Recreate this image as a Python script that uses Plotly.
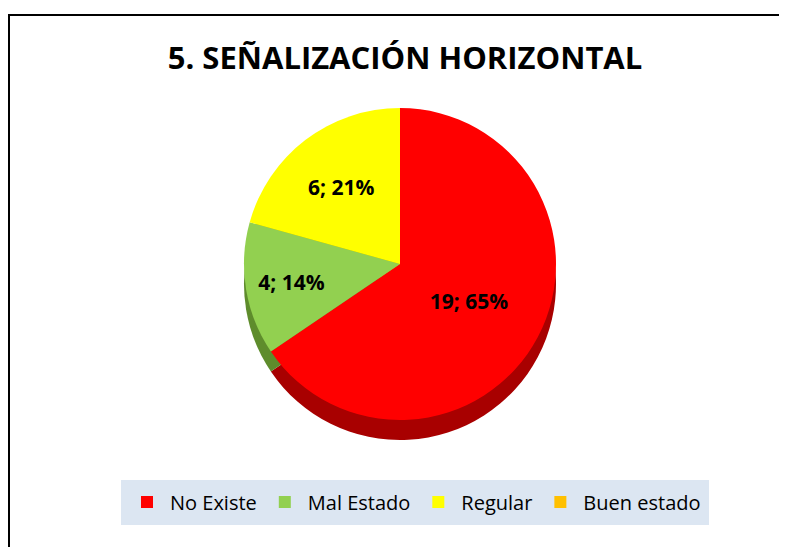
import plotly.graph_objects as go

categories = ["No Existe", "Mal Estado", "Regular", "Buen estado"]
values = [19, 4, 6, 0]
percent_labels = ["65%", "14%", "21%", ""]
colors = ["#FF0000", "#92D050", "#FFFF00", "#FFC000"]
side_colors = ["#A80000", "#5E8C2C", "#B0B000", "#B08400"]
title_text = "5. SEÑALIZACIÓN HORIZONTAL"

W, H = 787, 547
OFF = 8  # page body margin offset

def px_x(x):
    return (x - OFF) / W

def px_y(y):
    return 1 - (y - OFF) / H

xdom = [px_x(244), px_x(556)]

fig = go.Figure()
# depth (side) layer to imitate the 3D extrusion
fig.add_trace(go.Pie(
    labels=categories, values=values, sort=False, direction="clockwise",
    marker=dict(colors=side_colors, line=dict(width=0)),
    textinfo="none", showlegend=False, hoverinfo="skip",
    domain=dict(x=xdom, y=[px_y(440), px_y(128)]),
))
# top face
fig.add_trace(go.Pie(
    labels=categories, values=values, sort=False, direction="clockwise",
    text=percent_labels,
    texttemplate=["%{value}; %{text}" if v > 0 else "" for v in values],
    textposition="inside", insidetextorientation="horizontal",
    textfont=dict(family="Open Sans", size=21, color="black", weight="bold"),
    marker=dict(colors=colors, line=dict(width=0)),
    domain=dict(x=xdom, y=[px_y(420), px_y(108)]),
))

fig.update_layout(
    width=W, height=H,
    margin=dict(l=0, r=0, t=0, b=0),
    paper_bgcolor="white",
    title=dict(text="<b>" + title_text + "</b>", x=px_x(405), xanchor="center",
               y=px_y(58), yanchor="middle",
               font=dict(family="Open Sans", size=31, color="black")),
    legend=dict(orientation="h", x=px_x(415), xanchor="center",
                y=px_y(502), yanchor="middle",
                bgcolor="#DCE6F2", bordercolor="#DCE6F2", borderwidth=3,
                font=dict(family="Open Sans", size=20, color="black"),
                itemwidth=36, traceorder="normal"),
    shapes=[dict(type="rect", xref="paper", yref="paper",
                 x0=px_x(9), x1=1.02, y0=-0.02, y1=px_y(15),
                 line=dict(color="black", width=2))],
)

fig.write_html("out.html")
